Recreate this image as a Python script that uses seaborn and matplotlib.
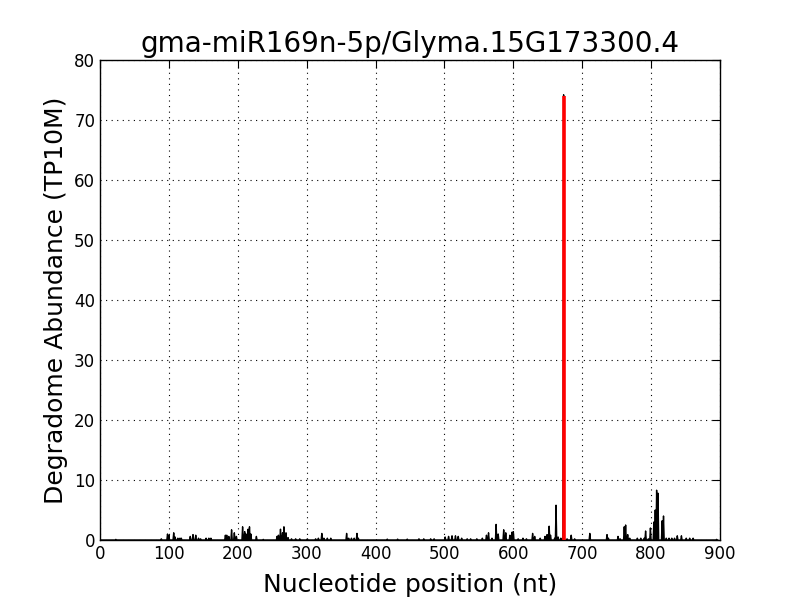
import numpy as np
import seaborn as sns
import matplotlib
matplotlib.use("Agg")
import matplotlib.pyplot as plt

# transcript length and degradome peaks (position nt, abundance TP10M)
length = 897
peak_pos = [23, 89, 98, 100, 107, 109, 113, 116, 118, 131, 135, 139, 143, 146,
            154, 158, 161, 182, 184, 187, 191, 195, 198, 207, 210, 212, 215, 217, 219,
            227, 237, 257, 259, 262, 265, 267, 270, 273, 278, 284, 290,
            301, 313, 317, 322, 325, 330, 335, 358, 361, 365, 369, 373, 375,
            417, 432, 446, 463, 470, 480, 485,
            501, 506, 511, 516, 520, 525, 533, 538, 547, 555, 561, 564, 569, 575, 578,
            586, 589, 595, 598, 600, 607, 614, 619, 628, 631, 639, 646, 649, 652, 654,
            660, 662, 665, 669, 673, 678, 684, 689, 711, 736, 738,
            752, 755, 761, 763, 766, 769, 780, 785, 790, 792, 796, 799, 804, 806, 808,
            810, 816, 818, 822, 826, 830, 834, 838, 844, 851, 856, 861, 895]
peak_val = [0.1, 0.2, 1.0, 0.8, 1.2, 0.5, 0.3, 0.3, 0.3, 0.6, 0.9, 0.8, 0.3, 0.2,
            0.3, 0.3, 0.3, 0.8, 0.8, 0.6, 1.7, 1.2, 0.6, 2.2, 1.4, 1.0, 1.8, 2.2, 1.0,
            0.6, 0.1, 0.6, 0.8, 1.8, 1.2, 2.2, 1.2, 0.4, 0.2, 0.2, 0.2,
            0.2, 0.2, 0.3, 1.1, 0.3, 0.3, 0.3, 1.1, 0.3, 0.3, 0.3, 1.1, 0.3,
            0.15, 0.15, 0.15, 0.2, 0.2, 0.2, 0.2,
            0.5, 0.6, 0.7, 0.7, 0.6, 0.3, 0.2, 0.2, 0.2, 0.3, 0.8, 1.2, 0.3, 2.6, 1.0,
            1.7, 1.2, 0.8, 1.3, 1.4, 0.2, 0.3, 0.2, 1.1, 0.6, 0.3, 0.6, 0.9, 2.3, 0.8,
            0.3, 5.8, 0.5, 0.3, 74.2, 0.2, 0.8, 0.2, 1.1, 0.9, 0.3,
            0.6, 0.2, 2.2, 2.5, 0.9, 0.3, 0.3, 0.3, 0.3, 1.5, 0.2, 2.0, 3.0, 5.0, 8.3,
            7.8, 3.2, 4.0, 0.3, 0.3, 0.3, 0.3, 0.7, 0.7, 0.3, 0.3, 0.3, 0.1]

# cleavage site highlighted in red
site_pos = 673
site_val = 74.0

title = "gma-miR169n-5p/Glyma.15G173300.4"

pos = np.arange(0, length + 1)
abund = np.zeros(len(pos))
abund[peak_pos] = peak_val

sns.set_style("white")
plt.rcParams["font.family"] = ["DejaVu Sans"]
plt.rcParams["text.color"] = "black"
plt.rcParams["axes.labelcolor"] = "black"
plt.rcParams["xtick.color"] = "black"
plt.rcParams["ytick.color"] = "black"

fig, ax = plt.subplots(figsize=(8, 6), dpi=100)
fig.subplots_adjust(left=0.125, right=0.9, bottom=0.1, top=0.9)

sns.lineplot(x=pos, y=abund, color="black", lw=1, estimator=None, ax=ax)
ax.vlines(site_pos, 0, site_val, color="red", lw=2.6, zorder=3)

ax.set_xlim(0, 900)
ax.set_ylim(0, 80)
ax.set_xticks(range(0, 901, 100))
ax.set_yticks(range(0, 81, 10))
ax.tick_params(labelsize=12, length=6, width=0.8, top=True, right=True,
               direction="in", colors="black")
ax.grid(True, color="black", linestyle=(0, (1, 4)), linewidth=0.8)
for s in ax.spines.values():
    s.set_visible(True)
    s.set_color("black")
    s.set_linewidth(1)

ax.set_title(title, fontsize=20, color="black")
ax.set_xlabel("Nucleotide position (nt)", fontsize=18, color="black", labelpad=7)
ax.set_ylabel("Degradome Abundance (TP10M)", fontsize=18, color="black")

plt.savefig("out.png", dpi=100)
